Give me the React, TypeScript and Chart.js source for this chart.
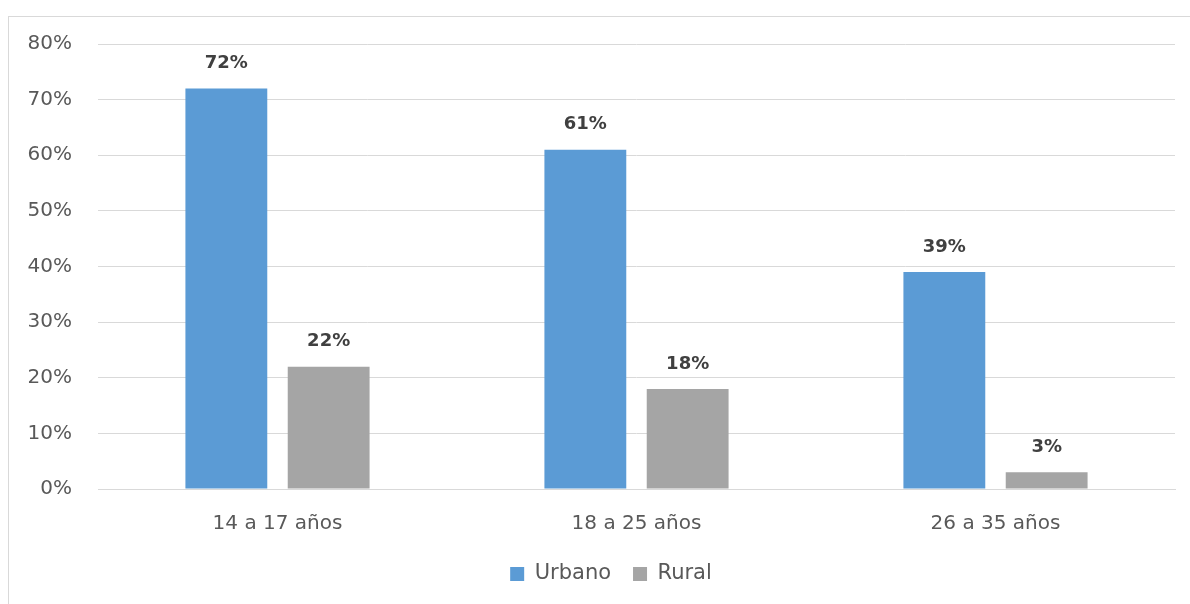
import React, { useEffect, useRef } from "react";
import { Chart, registerables } from "chart.js";

Chart.register(...registerables);

const categories = ["14 a 17 años", "18 a 25 años", "26 a 35 años"];
const urbano = [72, 61, 39];
const rural = [22, 18, 3];
const seriesNames = ["Urbano", "Rural"];
const yTicksMax = 80;
const yTickStep = 10;

const FONT = "'DejaVu Sans', sans-serif";

const dataLabels = {
  id: "dataLabels",
  afterDatasetsDraw(chart: any) {
    const ctx = chart.ctx;
    ctx.save();
    ctx.font = `bold 18px ${FONT}`;
    ctx.fillStyle = "#404040";
    ctx.textAlign = "center";
    ctx.textBaseline = "middle";
    chart.data.datasets.forEach((ds: any, i: number) => {
      const meta = chart.getDatasetMeta(i);
      meta.data.forEach((bar: any, j: number) => {
        ctx.fillText(`${ds.data[j]}%`, bar.x, bar.y - 25);
      });
    });
    ctx.restore();
  },
};

// centre the legend under the whole chart frame, as in the original
const legendShift = {
  id: "legendShift",
  afterLayout(chart: any) {
    const lg = chart.legend;
    if (lg) {
      lg.left += 19;
      lg.right += 19;
    }
  },
};

export default function App() {
  const ref = useRef<HTMLCanvasElement | null>(null);
  useEffect(() => {
    if (!ref.current) return;
    const chart = new Chart(ref.current, {
      type: "bar",
      data: {
        labels: categories,
        datasets: [
          {
            label: seriesNames[0],
            data: urbano,
            backgroundColor: "#5B9BD5",
            categoryPercentage: 0.57,
            barPercentage: 0.8,
          },
          {
            label: seriesNames[1],
            data: rural,
            backgroundColor: "#A5A5A5",
            categoryPercentage: 0.57,
            barPercentage: 0.8,
          },
        ],
      },
      options: {
        animation: false,
        responsive: true,
        maintainAspectRatio: false,
        layout: { padding: { top: 27, right: 15, left: 0, bottom: 9.5 } },
        plugins: {
          legend: {
            position: "bottom",
            labels: {
              boxWidth: 14,
              boxHeight: 14,
              padding: 22,
              color: "#595959",
              font: { family: FONT, size: 21 },
            },
          },
          tooltip: { enabled: false },
        },
        scales: {
          x: {
            grid: { display: false, drawTicks: false },
            border: { display: true, color: "#D9D9D9", width: 1 },
            ticks: {
              color: "#595959",
              font: { family: FONT, size: 20 },
              padding: 23,
            },
            afterFit: (s: any) => {
              s.height = 52.5;
              s.paddingLeft = 0;
              s.paddingRight = 0;
            },
          },
          y: {
            min: 0,
            max: yTicksMax,
            grid: { color: "#D9D9D9", lineWidth: 1, drawTicks: false },
            border: { display: false },
            ticks: {
              stepSize: yTickStep,
              color: "#595959",
              font: { family: FONT, size: 20 },
              padding: 26,
              callback: (v: any) => `${v}%`,
            },
            afterFit: (s: any) => {
              s.width = 89;
              s.paddingTop = 0;
              s.paddingBottom = 0;
            },
          },
        },
      },
      plugins: [dataLabels, legendShift],
    });
    return () => chart.destroy();
  }, []);

  return (
    <div style={{ position: "fixed", inset: 0, overflow: "hidden", background: "#fff" }}>
      <div
        style={{
          position: "absolute",
          left: 8,
          top: 16,
          width: 1250,
          height: 650,
          border: "1px solid #D9D9D9",
        }}
      >
        <div style={{ position: "absolute", left: 0, top: 0, width: 1181, height: 587 }}>
          <canvas ref={ref} />
        </div>
      </div>
    </div>
  );
}
